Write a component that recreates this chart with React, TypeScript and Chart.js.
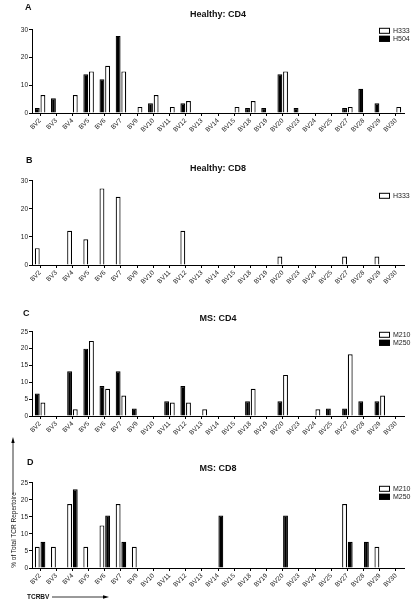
import React, { useEffect, useRef } from "react";
import { Chart, registerables } from "chart.js";
Chart.register(...registerables);

const categories = ["BV2","BV3","BV4","BV5","BV6","BV7","BV9","BV10","BV11","BV12","BV13","BV14","BV15","BV18","BV19","BV20","BV23","BV24","BV25","BV27","BV28","BV29","BV30"];

// Panel A: Healthy CD4
const aH504 = [1.8,5.3,0,14,12.2,27.8,0,3.5,0,3.5,0,0,0,1.8,1.8,14,1.8,0,0,1.8,8.7,3.5,0];
const aH333 = [6.5,0,6.5,15,17,15,2.2,6.5,2.2,4.3,0,0,2.2,4.3,0,15,0,0,0,2.2,0,0,2.2];
// Panel B: Healthy CD8
const bH333 = [6,0,12.2,9.2,27.3,24.3,0,0,0,12.2,0,0,0,0,0,3,0,0,0,3,0,3,0];
const bEmpty = categories.map(() => null);
// Panel C: MS CD4
const cM250 = [6.7,0,13.3,20,8.9,13.3,2.2,0,4.4,8.9,0,0,0,4.4,0,4.4,0,0,2.2,2.2,4.4,4.4,0];
const cM210 = [4,0,2,22.3,8.1,6.1,0,0,4,4,2,0,0,8.1,0,12.2,0,2,0,18.3,0,6.1,0];
// Panel D: MS CD8
const dM210 = [6.25,6.25,18.75,6.25,12.5,18.75,6.25,0,0,0,0,0,0,0,0,0,0,0,0,18.75,0,6.25,0];
const dM250 = [7.7,0,23.1,0,15.4,7.7,0,0,0,0,0,15.4,0,0,0,15.4,0,0,0,7.7,7.7,0,0];

const yTicksA = [0, 10, 20, 30];
const yTicksC = [0, 5, 10, 15, 20, 25];

const FONT = "'Liberation Sans', Arial, Helvetica, sans-serif";

type DS = { label: string; data: (number | null)[]; fill: string; legend: boolean };

const legendPlugin = {
  id: "innerLegend",
  afterDraw(chart: any) {
    const opts = chart.options.plugins.innerLegend;
    if (!opts) return;
    const ctx = chart.ctx;
    const area = chart.chartArea;
    const items: DS[] = opts.items;
    ctx.save();
    ctx.font = `7px ${FONT}`;
    ctx.textBaseline = "middle";
    items.forEach((it, i) => {
      const x = 379;
      const y = area.top + opts.dy + i * 8;
      ctx.fillStyle = it.fill;
      ctx.fillRect(x, y, 11, 6);
      ctx.strokeStyle = "#000";
      ctx.lineWidth = 1;
      ctx.strokeRect(x + 0.5, y + 0.5, 10, 5);
      ctx.fillStyle = "#222";
      ctx.fillText(it.label, x + 14, y + 3.5);
    });
    ctx.restore();
  },
};

function Panel(props: { top: number; height: number; title: string; titlePadTop: number; titlePadBottom: number; datasets: DS[]; yMax: number; yTicks: number[]; legendOrder: DS[]; legendDy: number }) {
  const ref = useRef<HTMLCanvasElement>(null);
  useEffect(() => {
    const chart = new Chart(ref.current!, {
      type: "bar",
      data: {
        labels: categories,
        datasets: props.datasets.map((d) => ({
          label: d.label,
          data: d.data as any,
          backgroundColor: d.fill,
          borderColor: "#000",
          borderWidth: 1.2,
          borderSkipped: "bottom",
          barPercentage: 0.86,
          categoryPercentage: 0.7,
        })),
      },
      options: {
        responsive: false,
        animation: false,
        layout: { padding: { left: 0, right: 14, top: 0, bottom: 0 } },
        plugins: {
          legend: { display: false },
          tooltip: { enabled: false },
          title: {
            display: true,
            text: props.title,
            fullSize: false,
            color: "#111",
            font: { family: FONT, size: 9, weight: "bold" },
            padding: { top: props.titlePadTop, bottom: props.titlePadBottom },
          },
          innerLegend: { items: props.legendOrder, dy: props.legendDy },
        } as any,
        scales: {
          x: {
            offset: true,
            grid: { display: true, drawOnChartArea: false, offset: false, tickLength: 3, color: "#000", tickColor: "#000" },
            border: { display: true, color: "#000", width: 1 },
            ticks: { autoSkip: false, maxRotation: 45, minRotation: 45, color: "#1a1a1a", padding: 1, font: { family: FONT, size: 6.5 } },
            afterFit: (s: any) => { s.height = 24; },
          },
          y: {
            min: 0,
            max: props.yMax,
            afterBuildTicks: (s: any) => { s.ticks = props.yTicks.map((v) => ({ value: v })); },
            grid: { display: true, drawOnChartArea: false, tickLength: 3, color: "#000", tickColor: "#000" },
            border: { display: true, color: "#000", width: 1 },
            ticks: { color: "#1a1a1a", padding: 1, font: { family: FONT, size: 6.5 } },
            afterFit: (s: any) => { s.width = 32; },
          },
        },
      },
      plugins: [legendPlugin],
    } as any);
    return () => chart.destroy();
  }, []);
  return (
    <canvas ref={ref} width={418} height={props.height} style={{ position: "absolute", left: 0, top: props.top, width: 418, height: props.height }} />
  );
}

const letterStyle = (x: number, y: number): React.CSSProperties => ({
  position: "absolute", left: x, top: y, font: `bold 9px ${FONT}`, color: "#111", lineHeight: "10px",
});

export default function App() {
  const H333a: DS = { label: "H333", data: aH333, fill: "#fff", legend: true };
  const H504a: DS = { label: "H504", data: aH504, fill: "#000", legend: true };
  const H333b: DS = { label: "H333", data: bH333, fill: "#fff", legend: true };
  const emptyB: DS = { label: "", data: bEmpty, fill: "#000", legend: false };
  const M210c: DS = { label: "M210", data: cM210, fill: "#fff", legend: true };
  const M250c: DS = { label: "M250", data: cM250, fill: "#000", legend: true };
  const M210d: DS = { label: "M210", data: dM210, fill: "#fff", legend: true };
  const M250d: DS = { label: "M250", data: dM250, fill: "#000", legend: true };
  return (
    <div style={{ position: "fixed", left: 0, top: 0, width: 418, height: 609, background: "#fff", overflow: "hidden" }}>
      <Panel top={0} height={137} title="Healthy: CD4" titlePadTop={9} titlePadBottom={10} datasets={[H504a, H333a]} yMax={30} yTicks={yTicksA} legendOrder={[H333a, H504a]} legendDy={-2} />
      <Panel top={150} height={139} title="Healthy: CD8" titlePadTop={13} titlePadBottom={7} datasets={[H333b, emptyB]} yMax={30} yTicks={yTicksA} legendOrder={[H333b]} legendDy={12} />
      <Panel top={300} height={140} title="MS: CD4" titlePadTop={13} titlePadBottom={8} datasets={[M250c, M210c]} yMax={25} yTicks={yTicksC} legendOrder={[M210c, M250c]} legendDy={0} />
      <Panel top={450} height={142} title="MS: CD8" titlePadTop={13} titlePadBottom={9} datasets={[M210d, M250d]} yMax={25} yTicks={yTicksC} legendOrder={[M210d, M250d]} legendDy={3} />
      <div style={letterStyle(25, 2)}>A</div>
      <div style={letterStyle(26, 155)}>B</div>
      <div style={letterStyle(23, 308)}>C</div>
      <div style={letterStyle(27, 457)}>D</div>
      <svg width={418} height={609} style={{ position: "absolute", left: 0, top: 0, pointerEvents: "none" }}>
        <line x1={13} y1={442} x2={13} y2={494} stroke="#000" strokeWidth={0.8} />
        <polygon points="13,437 11.3,443 14.7,443" fill="#000" />
        <line x1={52} y1={597} x2={104} y2={597} stroke="#000" strokeWidth={0.8} />
        <polygon points="109,597 103,595.3 103,598.7" fill="#000" />
      </svg>
      <div style={{ position: "absolute", left: 13, top: 530, transform: "translate(-50%, -50%) rotate(-90deg)", whiteSpace: "nowrap", font: `6.5px ${FONT}`, color: "#111" }}>% of Total TCR Repertoire</div>
      <div style={{ position: "absolute", left: 27, top: 593, font: `bold 6.5px ${FONT}`, color: "#111", lineHeight: "8px" }}>TCRBV</div>
    </div>
  );
}
